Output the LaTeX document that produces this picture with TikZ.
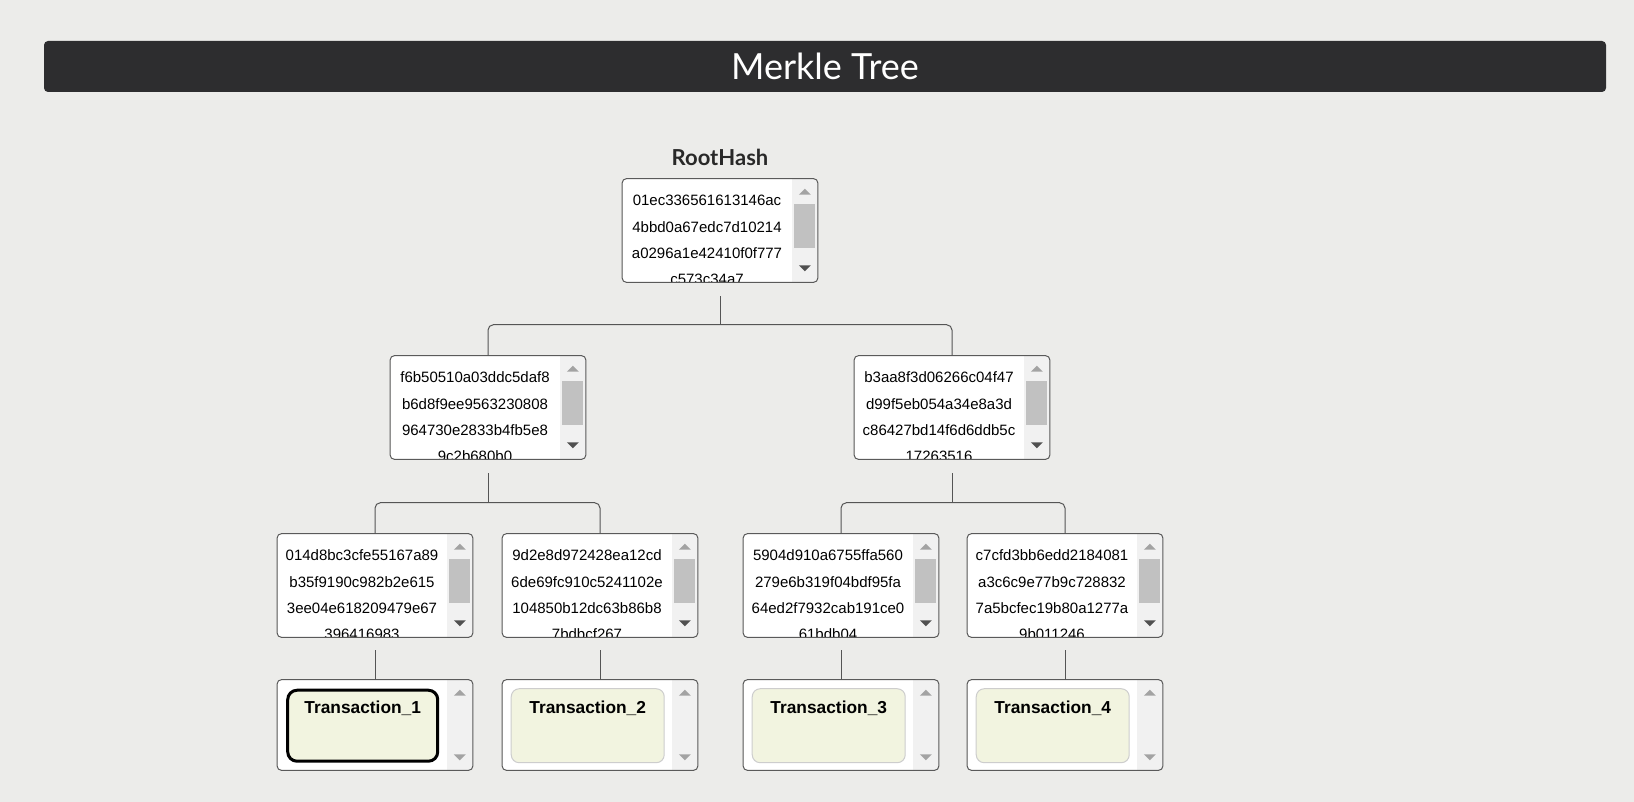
\documentclass[tikz,border=0pt]{standalone}
\usepackage{fontspec}
\usepackage{tikz}
\usetikzlibrary{calc, positioning}
\setmainfont{Liberation Sans}
\newfontfamily\latofont{Lato}
\definecolor{pagebg}{RGB}{236,236,234}
\definecolor{barbg}{RGB}{45,45,47}
\definecolor{edgegray}{RGB}{90,90,90}
\definecolor{linkgray}{RGB}{85,85,85}
\definecolor{scrolltrack}{RGB}{241,241,241}
\definecolor{scrollthumb}{RGB}{193,193,193}
\definecolor{arrowlight}{RGB}{163,163,163}
\definecolor{arrowdark}{RGB}{80,80,80}
\definecolor{txfill}{RGB}{242,244,224}
\definecolor{txedge}{RGB}{205,205,205}
\definecolor{labelgray}{RGB}{40,40,40}

\tikzset{
  hashbox/.style={fill=white, minimum width=146.25pt, minimum height=77.25pt,
                  inner sep=0pt, rounded corners=3pt},
  txbox/.style={fill=white, minimum width=146.25pt, minimum height=67.5pt,
                inner sep=0pt, rounded corners=3pt},
  boxedge/.style={draw=edgegray, line width=0.75pt, rounded corners=3pt},
  hashtext/.style={anchor=base, inner sep=0pt,
                   font=\fontsize{11.25pt}{13pt}\selectfont},
  txcard/.style={fill=txfill, draw=txedge, line width=0.75pt, rounded corners=6pt,
                 minimum width=114.75pt, minimum height=55.5pt, inner sep=0pt},
  txcardsel/.style={txcard, draw=black, line width=2.25pt, rounded corners=7pt,
                    minimum width=112.5pt, minimum height=53.25pt},
  txtext/.style={anchor=base, inner sep=0pt,
                 font=\bfseries\fontsize{13pt}{15pt}\selectfont},
  link/.style={draw=linkgray, line width=0.75pt},
}

% hash box with a scroll bar: name, x, y, four lines
\newcommand{\hashnode}[7]{%
  \node[hashbox] (#1) at (#2,#3) {};
  \begin{scope}
    \clip[rounded corners=3pt] (#1.south west) rectangle (#1.north east);
    \fill[scrolltrack] ($(#1.north east)+(-26,0)$) rectangle (#1.south east);
    \fill[scrollthumb] ($(#1.north east)+(-24,25)$) rectangle ($(#1.north east)+(-3,69)$);
    \fill[arrowlight] ($(#1.north east)+(-19,16)$) -- ++(12,0) -- ++(-6,-6) -- cycle;
    \fill[arrowdark] ($(#1.south east)+(-19,-17)$) -- ++(12,0) -- ++(-6,6) -- cycle;
    \foreach \txt/\dy [count=\i] in {#4/27,#5/53.5,#6/80,#7/106}
      \node[hashtext] (#1-\i) at ($(#1.north)+(-13,\dy)$) {\txt};
  \end{scope}
  \draw[boxedge] (#1.south west) rectangle (#1.north east);
}

% transaction box: name, x, y, label, card style
\newcommand{\txnode}[5]{%
  \node[txbox] (#1) at (#2,#3) {};
  \begin{scope}
    \clip[rounded corners=3pt] (#1.south west) rectangle (#1.north east);
    \fill[scrolltrack] ($(#1.north east)+(-26,0)$) rectangle (#1.south east);
    \fill[arrowlight] ($(#1.north east)+(-19,16)$) -- ++(12,0) -- ++(-6,-6) -- cycle;
    \fill[arrowlight] ($(#1.south east)+(-19,-16)$) -- ++(12,0) -- ++(-6,6) -- cycle;
  \end{scope}
  \draw[boxedge] (#1.south west) rectangle (#1.north east);
  \node[#5] (#1-card) at ($(#1.north west)+(85.5,46)$) {};
  \node[txtext] (#1-label) at ($(#1.north west)+(85.5,34)$) {#4};
}

\begin{document}
\begin{tikzpicture}[x=0.75pt, y=-0.75pt]
    % page
    \useasboundingbox (0,0) rectangle (1634,802);
    \fill[pagebg] (0,0) rectangle (1634,802);
    % title bar
    \node[fill=barbg, rounded corners=3pt, minimum width=1171.5pt, minimum height=38.25pt,
          text=white, font=\latofont\fontsize{27pt}{30pt}\selectfont] (title) at (825,66.5) {Merkle Tree};
    \node[font=\latofont\bfseries\fontsize{16.5pt}{19pt}\selectfont, text=labelgray]
          (rootlabel) at (720,157) {RootHash};
    % root
    \hashnode{root}{720}{230.5}{01ec336561613146ac}{4bbd0a67edc7d10214}{a0296a1e42410f0f777}{c573c34a7}
    % second level
    \hashnode{h1}{488}{407.5}{f6b50510a03ddc5daf8}{b6d8f9ee9563230808}{964730e2833b4fb5e8}{9c2b680b0}
    \hashnode{h2}{952}{407.5}{b3aa8f3d06266c04f47}{d99f5eb054a34e8a3d}{c86427bd14f6d6ddb5c}{17263516}
    % leaf hashes
    \hashnode{h11}{375}{585.5}{014d8bc3cfe55167a89}{b35f9190c982b2e615}{3ee04e618209479e67}{396416983}
    \hashnode{h12}{600}{585.5}{9d2e8d972428ea12cd}{6de69fc910c5241102e}{104850b12dc63b86b8}{7bdbcf267}
    \hashnode{h21}{841}{585.5}{5904d910a6755ffa560}{279e6b319f04bdf95fa}{64ed2f7932cab191ce0}{61bdb04}
    \hashnode{h22}{1065}{585.5}{c7cfd3bb6edd2184081}{a3c6c9e77b9c728832}{7a5bcfec19b80a1277a}{9b011246}
    % transactions
    \txnode{t1}{375}{725}{Transaction\_1}{txcardsel}
    \txnode{t2}{600}{725}{Transaction\_2}{txcard}
    \txnode{t3}{841}{725}{Transaction\_3}{txcard}
    \txnode{t4}{1065}{725}{Transaction\_4}{txcard}
    % links
    \draw[link] ($(root.south)+(0,14)$) -- ++(0,29);
    \draw[link, rounded corners=4pt] (h1.north) -- ++(0,-31) -| (h2.north);
    \foreach \up/\a/\b in {h1/h11/h12, h2/h21/h22} {
      \draw[link] ($(\up.south)+(0,14)$) -- ++(0,30);
      \draw[link, rounded corners=4pt] (\a.north) -- ++(0,-31) -| (\b.north);
    }
    \foreach \a/\b in {h11/t1, h12/t2, h21/t3, h22/t4}
      \draw[link] ($(\a.south)+(0,13)$) -- (\b.north);
\end{tikzpicture}
\end{document}
